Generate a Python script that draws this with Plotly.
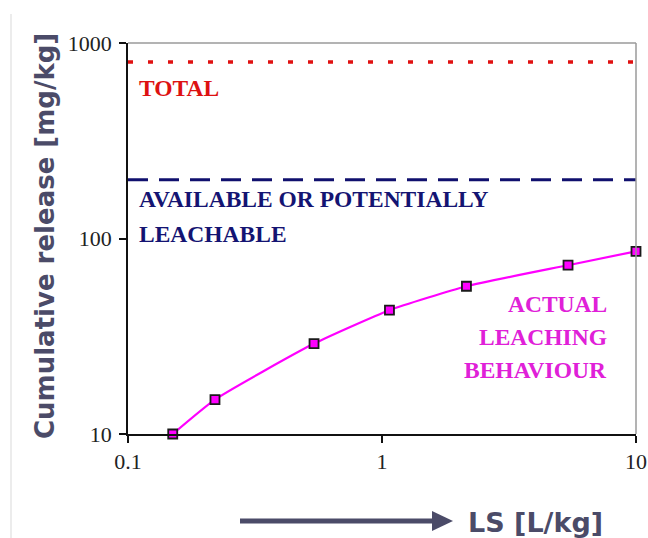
import plotly.graph_objects as go

# Cumulative release vs liquid/solid ratio
ls_ratio = [0.15, 0.22, 0.54, 1.07, 2.15, 5.4, 10]
release = [10, 15, 29, 43, 57, 73, 86]

# Reference levels
ls_span = [0.1, 10]
total_level = [800, 800]
available_level = [200, 200]

y_ticks = [10, 100, 1000]
x_ticks = [0.1, 1, 10]

W, H = 648, 538
L, R, T, B = 128, 12, 43, 104
PW, PH = W - L - R, H - T - B


def px(xp):
    return (xp - L) / PW


def py(yp):
    return (H - B - yp) / PH


fig = go.Figure()

fig.add_trace(go.Scatter(
    x=ls_span, y=total_level, mode="lines",
    line=dict(color="#e01010", width=3.5, dash="5px,15px"),
    hoverinfo="skip", showlegend=False,
))
fig.add_trace(go.Scatter(
    x=ls_span, y=available_level, mode="lines",
    line=dict(color="#10106e", width=3, dash="20px,11px"),
    hoverinfo="skip", showlegend=False,
))
fig.add_trace(go.Scatter(
    x=ls_ratio, y=release, mode="lines+markers",
    line=dict(color="#ff00ff", width=2.2, shape="spline", smoothing=0.5),
    marker=dict(symbol="square", size=9, color="#ff00ff",
                line=dict(color="#1a1a1a", width=1.8)),
    cliponaxis=False, showlegend=False,
))

serif = "Liberation Serif, Times New Roman, serif"
sans = "DejaVu Sans, Verdana, sans-serif"
label_color = "#4b4b68"

texts = [
    ("TOTAL", 137, 88, "left", "#dd1111"),
    ("AVAILABLE OR POTENTIALLY", 137, 199, "left", "#141472"),
    ("LEACHABLE", 137, 234, "left", "#141472"),
    ("ACTUAL", 609, 304, "right", "#e020d8"),
    ("LEACHING", 609, 337, "right", "#e020d8"),
    ("BEHAVIOUR", 609, 370, "right", "#e020d8"),
]
for txt, xp, yp, anchor, col in texts:
    fig.add_annotation(
        x=px(xp), y=py(yp), xref="paper", yref="paper", text=txt,
        showarrow=False, xanchor=anchor, yanchor="middle",
        font=dict(family=serif, size=23.5, color=col, weight="bold"),
    )

# Axis titles
fig.add_annotation(
    x=px(45), y=py(236), xref="paper", yref="paper",
    text="<b>Cumulative release [mg/kg]</b>", textangle=-90,
    showarrow=False, xanchor="center", yanchor="middle",
    font=dict(family=sans, size=26, color=label_color),
)
fig.add_annotation(
    x=px(466), y=py(522), xref="paper", yref="paper",
    text="<b>LS [L/kg]</b>", showarrow=False,
    xanchor="left", yanchor="middle",
    font=dict(family=sans, size=27, color=label_color),
)

shapes = [
    # arrow shaft and head
    dict(type="line", xref="paper", yref="paper",
         x0=px(240), x1=px(434), y0=py(521), y1=py(521),
         line=dict(color=label_color, width=5)),
    dict(type="path", xref="paper", yref="paper",
         path=f"M {px(432)} {py(511)} L {px(453)} {py(521)} L {px(432)} {py(531)} Z",
         fillcolor=label_color, line=dict(color=label_color, width=0)),
    # plot-area frame (top and right)
    dict(type="line", xref="paper", yref="paper", x0=0, x1=1, y0=1, y1=1,
         line=dict(color="#9a9a9a", width=1.5)),
    dict(type="line", xref="paper", yref="paper", x0=1, x1=1, y0=0, y1=1,
         line=dict(color="#9a9a9a", width=1.5)),
    # faint slide edge
    dict(type="line", xref="paper", yref="paper",
         x0=px(11), x1=px(11), y0=py(14), y1=py(538),
         line=dict(color="#ececec", width=2)),
]

fig.update_layout(
    width=W, height=H,
    margin=dict(l=L, r=R, t=T, b=B, autoexpand=False),
    paper_bgcolor="white", plot_bgcolor="white",
    shapes=shapes,
    xaxis=dict(
        type="log", range=[-1, 1], tickvals=x_ticks, ticktext=["0.1", "1", "10"],
        showgrid=False, zeroline=False, showline=True, linecolor="#111",
        linewidth=1.5, ticks="outside", ticklen=7, tickcolor="#111",
        tickwidth=1.5, tickfont=dict(family=serif, size=22, color="#222"),
        automargin=False, fixedrange=True,
    ),
    yaxis=dict(
        type="log", range=[1, 3], tickvals=y_ticks, ticktext=["10", "100", "1000"],
        showgrid=False, zeroline=False, showline=True, linecolor="#111",
        linewidth=1.5, ticks="outside", ticklen=7, tickcolor="#111",
        tickwidth=1.5, tickfont=dict(family=serif, size=22, color="#222"),
        ticklabelstandoff=3, automargin=False, fixedrange=True,
    ),
    showlegend=False,
)

fig.write_html("out.html")
